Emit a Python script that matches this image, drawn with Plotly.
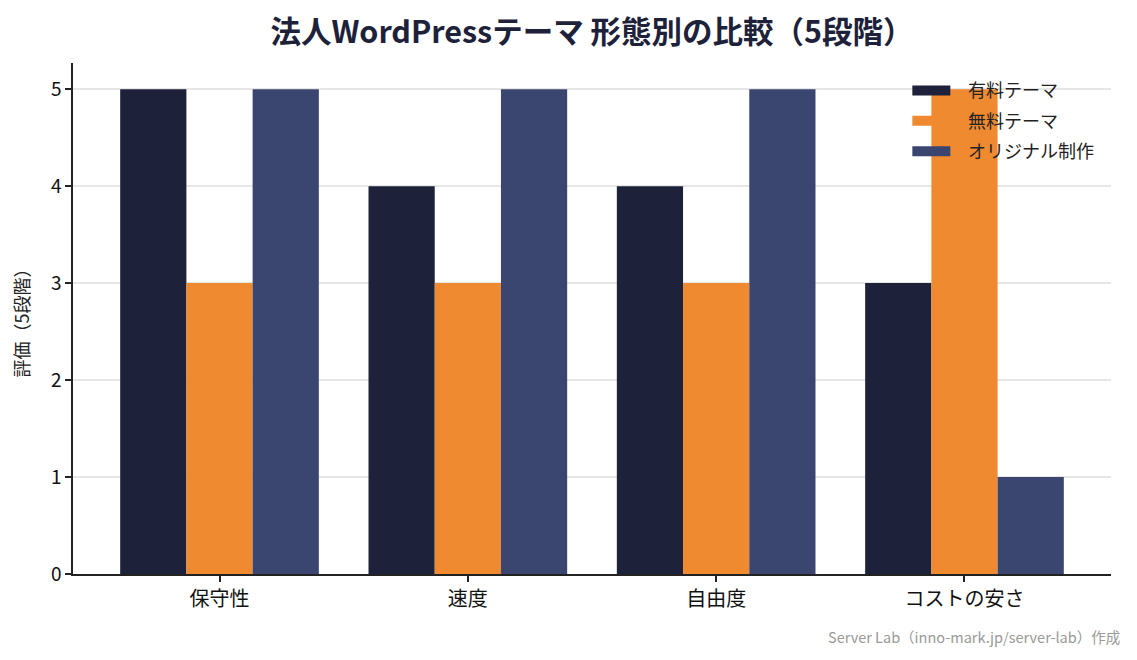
import plotly.graph_objects as go

categories = ['保守性', '速度', '自由度', 'コストの安さ']
paid_theme = [5, 4, 4, 3]
free_theme = [3, 3, 3, 5]
original = [5, 5, 5, 1]

series_names = ['有料テーマ', '無料テーマ', 'オリジナル制作']
colors = ['#1D2139', '#F08A30', '#3B4670']

font_family = 'Noto Sans CJK JP, Noto Sans, sans-serif'

fig = go.Figure()
for i, (name, vals) in enumerate(zip(series_names, [paid_theme, free_theme, original])):
    fig.add_trace(go.Bar(
        x=categories, y=vals, name=name,
        marker=dict(color=colors[i], line=dict(width=0)),
        legendgroup=str(i), showlegend=False,
    ))
    # legend entry drawn as a thick line so it looks like a wide patch
    fig.add_trace(go.Scatter(
        x=[None], y=[None], mode='lines', name='\u2002\u2009' + name,
        line=dict(color=colors[i], width=12),
        legendgroup=str(i),
    ))

# page has an 8px body margin, so the figure is sized to fit the window
fig.update_layout(
    width=1129, height=652,
    margin=dict(l=63, r=26, t=55, b=86),
    paper_bgcolor='white', plot_bgcolor='white',
    font=dict(family=font_family, color='#222'),
    barmode='group', bargap=0.2, bargroupgap=0,
    title=dict(text='<b>法人WordPressテーマ 形態別の比較（5段階）</b>',
               xref='paper', x=0.5, xanchor='center', y=0.962, yanchor='middle',
               font=dict(size=30.5, color='#1D2139', family=font_family)),
    legend=dict(x=0.8038, xanchor='left', y=0.982, yanchor='top',
                bgcolor='rgba(0,0,0,0)', font=dict(size=18, color='#222'),
                tracegroupgap=4, itemwidth=38),
    showlegend=True,
)

fig.update_xaxes(
    range=[-0.59, 3.59], showline=True, linecolor='#222', linewidth=1.5,
    ticks='outside', ticklen=6, tickcolor='#222', tickwidth=1.5,
    tickfont=dict(size=20, color='#111'), showgrid=False,
)
fig.update_yaxes(
    range=[0, 5.27], dtick=1, showline=True, linecolor='#222', linewidth=1.5,
    ticks='outside', ticklen=6, tickcolor='#222', tickwidth=1.5,
    tickfont=dict(size=19, color='#111'),
    showgrid=True, gridcolor='#E6E6E6', gridwidth=1.5, zeroline=False,
    title=dict(text='評価（5段階）', font=dict(size=18, color='#222'), standoff=18),
)

fig.add_annotation(
    text='Server Lab（inno-mark.jp/server-lab）作成',
    xref='paper', yref='paper', x=1.011, y=-0.122, xanchor='right', yanchor='middle',
    showarrow=False, font=dict(size=14.5, color='#999999', family=font_family),
)

fig.write_html('out.html')
